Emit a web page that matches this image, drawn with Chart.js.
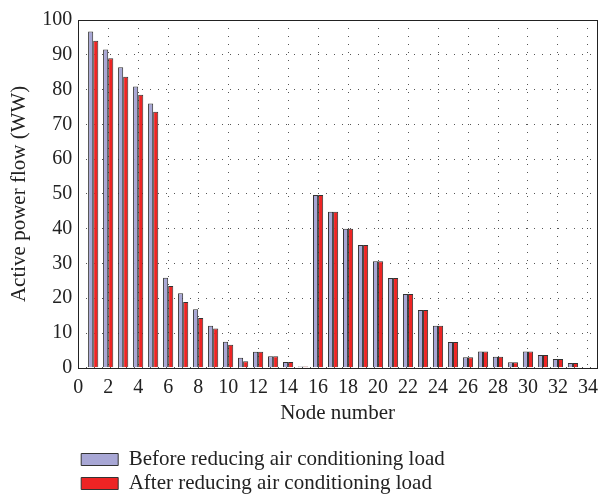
<!DOCTYPE html>
<html>
<head>
<meta charset="utf-8">
<script src="https://cdn.jsdelivr.net/npm/chart.js@4.4.1/dist/chart.umd.min.js"></script>
<style>
  html, body { margin: 0; padding: 0; background: #fff; }
  #wrap { width: 606px; height: 496px; }
</style>
</head>
<body>
<div id="wrap"><canvas id="flowChart" width="606" height="496"></canvas></div>
<script>
const nodes = [1, 2, 3, 4, 5, 6, 7, 8, 9, 10, 11, 12, 13, 14, 15, 16, 17, 18, 19, 20, 21, 22, 23, 24, 25, 26, 27, 28, 29, 30, 31, 32, 33];
const beforeLoad = [96.7, 91.5, 86.4, 80.9, 76.0, 25.9, 21.4, 16.8, 12.1, 7.5, 2.9, 4.6, 3.3, 1.7, 0.4, 49.7, 44.9, 40.0, 35.3, 30.6, 25.8, 21.2, 16.6, 12.1, 7.4, 3.0, 4.7, 3.2, 1.6, 4.7, 3.7, 2.5, 1.35];
const afterLoad = [94.0, 89.0, 83.7, 78.5, 73.6, 23.5, 18.9, 14.3, 11.3, 6.6, 1.9, 4.6, 3.3, 1.7, 0.4, 49.7, 44.9, 40.0, 35.3, 30.6, 25.8, 21.2, 16.6, 12.1, 7.4, 3.0, 4.7, 3.2, 1.6, 4.7, 3.7, 2.5, 1.35];
const xTicks = [0, 2, 4, 6, 8, 10, 12, 14, 16, 18, 20, 22, 24, 26, 28, 30, 32, 34];

const serif = "'Liberation Serif', 'DejaVu Serif', serif";

function toPoints(vals) {
    return nodes.map((n, i) => ({ x: n, y: vals[i] }));
}

// black frame around the plot area
const frame = {
    id: 'frame',
    afterDraw(chart) {
        const a = chart.chartArea;
        const c = chart.ctx;
        c.save();
        c.strokeStyle = '#222';
        c.lineWidth = 1;
        c.strokeRect(Math.round(a.left) + 0.5, Math.round(a.top) + 0.5, Math.round(a.right - a.left), Math.round(a.bottom - a.top));
        c.restore();
    }
};

window.onload = function() {
    const ctx = document.getElementById('flowChart').getContext('2d');
    new Chart(ctx, {
        type: 'bar',
        data: {
            datasets: [{
                label: 'Before reducing air conditioning load',
                data: toPoints(beforeLoad),
                backgroundColor: '#a8a7d5',
                borderColor: '#333',
                borderWidth: 1,
                categoryPercentage: 0.68,
                barPercentage: 1.0
            }, {
                label: 'After reducing air conditioning load',
                data: toPoints(afterLoad),
                backgroundColor: '#ee2424',
                borderColor: '#333',
                borderWidth: 1,
                categoryPercentage: 0.68,
                barPercentage: 1.0
            }]
        },
        options: {
            responsive: false,
            animation: false,
            layout: { padding: { top: 20, right: 2, left: 7, bottom: -8 } },
            plugins: {
                tooltip: { enabled: false },
                legend: {
                    position: 'bottom',
                    align: 'start',
                    fullSize: false,
                    labels: {
                        boxWidth: 37,
                        boxHeight: 12,
                        padding: 3,
                        color: '#222',
                        font: { family: serif, size: 21 }
                    }
                }
            },
            scales: {
                x: {
                    type: 'linear',
                    offset: false,
                    min: 0,
                    max: 34.6,
                    afterBuildTicks: scale => {
                        scale.ticks = xTicks.map(v => ({ value: v }));
                    },
                    ticks: {
                        autoSkip: false,
                        color: '#222',
                        font: { family: serif, size: 20 },
                        maxRotation: 0,
                        padding: 8
                    },
                    grid: {
                        offset: false,
                        color: '#555',
                        lineWidth: 1,
                        drawTicks: false
                    },
                    border: { display: false, dash: [1, 7] },
                    title: {
                        display: true,
                        text: 'Node number',
                        color: '#222',
                        font: { family: serif, size: 21 },
                        padding: { top: -7, bottom: 20 }
                    }
                },
                y: {
                    min: 0,
                    max: 100,
                    ticks: {
                        stepSize: 10,
                        color: '#222',
                        font: { family: serif, size: 20 },
                        padding: 6
                    },
                    grid: {
                        color: '#555',
                        lineWidth: 1,
                        drawTicks: false
                    },
                    border: { display: false, dash: [1, 7] },
                    title: {
                        display: true,
                        text: 'Active power flow (WW)',
                        color: '#222',
                        font: { family: serif, size: 21 },
                        padding: { top: 0, bottom: 4 }
                    }
                }
            }
        },
        plugins: [frame]
    });
};
</script>
</body>
</html>
